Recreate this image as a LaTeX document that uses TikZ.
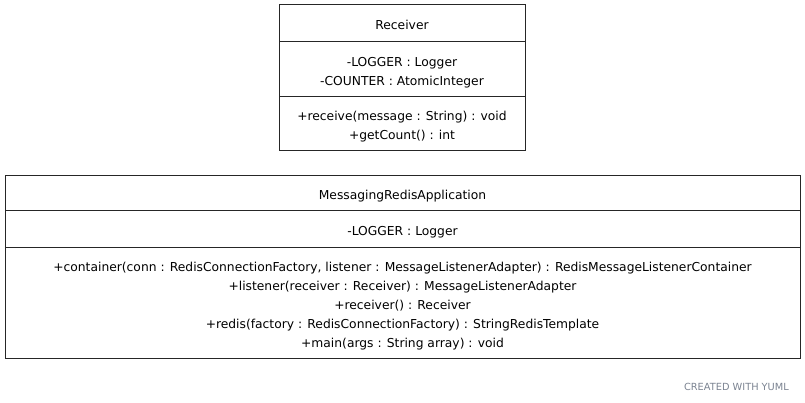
\documentclass[tikz,border=0pt]{standalone}
\usepackage{fontspec}
\setmainfont{DejaVu Sans}
\usetikzlibrary{positioning}
\definecolor{yumlgray}{HTML}{7A8290}
\newcommand{\umllines}[1]{\raisebox{-2.5pt}[\height][\depth]{\begin{tabular}{@{}c@{}}#1\end{tabular}}}
\tikzset{
  umlpart/.style={draw=black!85, line width=1pt, outer sep=0pt, inner sep=0pt,
    align=center, minimum width=#1, font=\fontsize{12.3}{19}\selectfont},
}
\begin{document}
\begin{tikzpicture}[x=1pt, y=-1pt]
      \useasboundingbox (0,0) rectangle (805,403);

      % Receiver
      \node[umlpart=246pt, minimum height=37pt, anchor=north west] (recvName) at (279,5)
      {\umllines{Receiver}};
      \node[umlpart=246pt, minimum height=55pt, below=0pt of recvName] (recvFields)
      {\umllines{-LOGGER : Logger\\-COUNTER : AtomicInteger}};
      \node[umlpart=246pt, minimum height=54pt, below=0pt of recvFields] (recvMethods)
      {\umllines{+receive(message : String) : void\\+getCount() : int}};

      % MessagingRedisApplication
      \node[umlpart=795pt, minimum height=35pt, anchor=north west] (appName) at (5,176)
      {\umllines{MessagingRedisApplication}};
      \node[umlpart=795pt, minimum height=37pt, below=0pt of appName] (appFields)
      {\umllines{-LOGGER : Logger}};
      \node[umlpart=795pt, minimum height=110pt, below=0pt of appFields] (appMethods)
      {\umllines{+container(conn : RedisConnectionFactory, listener : MessageListenerAdapter) : RedisMessageListenerContainer\\
       +listener(receiver : Receiver) : MessageListenerAdapter\\
       +receiver() : Receiver\\
       +redis(factory : RedisConnectionFactory) : StringRedisTemplate\\
       +main(args : String array) : void}};

      \node[text=yumlgray, font=\fontsize{9.8}{11}\selectfont, anchor=east, inner sep=0pt] (footer) at (789,387)
      {CREATED WITH YUML};
    \end{tikzpicture}
\end{document}
